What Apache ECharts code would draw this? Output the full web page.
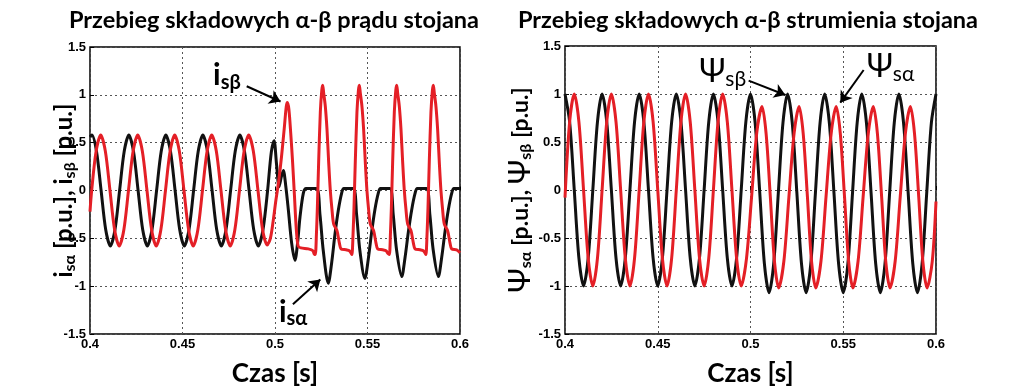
<!DOCTYPE html>
<html><head><meta charset="utf-8">
<script src="https://cdn.jsdelivr.net/npm/echarts@6/dist/echarts.min.js"></script>
<style>html,body{margin:0;padding:0;background:#fff}#c{width:1024px;height:392px}</style>
</head><body><div id="c"></div>
<script>
// ---------- text ----------
const titleLeft = 'Przebieg składowych α-β prądu stojana';
const titleRight = 'Przebieg składowych α-β strumienia stojana';
const xName = 'Czas [s]';
const xTicks = [0.4, 0.45, 0.5, 0.55, 0.6];
const yTicks = [-1.5, -1, -0.5, 0, 0.5, 1, 1.5];

// ---------- left chart: stator current components [t (s), value (p.u.)] ----------
const isAlpha = [
 [0.400,0.56],[0.401,0.58],[0.4035,0.41],[0.406,0],[0.4085,-0.41],[0.411,-0.58],[0.4135,-0.41],[0.416,0],[0.4185,0.41],
 [0.421,0.58],[0.4235,0.41],[0.426,0],[0.4285,-0.41],[0.431,-0.58],[0.4335,-0.41],[0.436,0],[0.4385,0.41],
 [0.441,0.58],[0.4435,0.41],[0.446,0],[0.4485,-0.41],[0.451,-0.58],[0.4535,-0.41],[0.456,0],[0.4585,0.41],
 [0.461,0.58],[0.4635,0.41],[0.466,0],[0.4685,-0.41],[0.471,-0.58],[0.4735,-0.41],[0.476,0],[0.4785,0.41],
 [0.481,0.58],[0.4835,0.41],[0.486,0],[0.4885,-0.41],[0.491,-0.58],[0.4935,-0.41],[0.496,0],[0.498,0.40],
 [0.4995,0.52],[0.5008,0.28],[0.5022,0.04],[0.5035,0.15],[0.5045,0.21],[0.5058,0.05],[0.5072,-0.2],[0.5090,-0.55],
 [0.5108,-0.73],[0.5122,-0.55],[0.5135,-0.28],[0.5153,-0.03],[0.5168,0.02],[0.5224,0.02],[0.5243,-0.25],[0.5261,-0.63],
 [0.5288,-0.97],[0.5306,-0.76],[0.5324,-0.46],[0.5342,-0.21],[0.5360,-0.03],[0.5372,0.02],[0.5423,0.02],[0.5441,-0.25],[0.5459,-0.63],
 [0.5486,-0.92],[0.5504,-0.72],[0.5522,-0.44],[0.5540,-0.2],[0.5558,-0.03],[0.5570,0.02],[0.5621,0.02],[0.5639,-0.25],[0.5657,-0.62],
 [0.5685,-0.90],[0.5703,-0.7],[0.5721,-0.43],[0.5739,-0.2],[0.5757,-0.03],[0.5769,0.02],[0.5819,0.02],[0.5837,-0.25],[0.5855,-0.62],
 [0.5883,-0.90],[0.5901,-0.7],[0.5919,-0.43],[0.5937,-0.2],[0.5955,-0.03],[0.5967,0.02],[0.600,0.02]
];
const isBeta = [
 [0.400,-0.22],[0.4009,0],[0.4033,0.41],[0.4058,0.58],[0.4083,0.41],[0.4108,0],[0.4133,-0.41],[0.4158,-0.58],[0.4183,-0.41],[0.4208,0],[0.4233,0.41],
 [0.4258,0.58],[0.4283,0.41],[0.4308,0],[0.4333,-0.41],[0.4358,-0.58],[0.4383,-0.41],[0.4408,0],[0.4433,0.41],
 [0.4458,0.58],[0.4483,0.41],[0.4508,0],[0.4533,-0.41],[0.4558,-0.58],[0.4583,-0.41],[0.4608,0],[0.4633,0.41],
 [0.4658,0.58],[0.4683,0.41],[0.4708,0],[0.4733,-0.41],[0.4758,-0.58],[0.4783,-0.41],[0.4808,0],[0.4833,0.41],
 [0.4858,0.58],[0.4883,0.41],[0.4908,0],[0.4933,-0.41],[0.4958,-0.57],
 [0.4975,-0.5],[0.4990,-0.32],[0.5005,-0.1],[0.5020,0.1],[0.5035,0.35],[0.5050,0.65],[0.5061,0.88],[0.5067,0.92],[0.5075,0.85],
 [0.5085,0.6],[0.5095,0.3],[0.5105,-0.05],[0.5115,-0.4],[0.5125,-0.58],[0.5140,-0.6],[0.5180,-0.61],[0.5205,-0.63],[0.5213,-0.67],
 [0.5218,-0.67],[0.5224,-0.45],[0.5229,-0.18],[0.5236,0.3],[0.5245,0.82],[0.5253,1.05],[0.5258,1.1],[0.5263,1.02],[0.5272,0.88],
 [0.5281,0.64],[0.5290,0.3],[0.5299,0.0],[0.5308,-0.2],[0.5317,-0.35],[0.5335,-0.42],[0.5348,-0.55],[0.5357,-0.61],[0.5384,-0.62],[0.5402,-0.63],[0.5413,-0.66],
 [0.5416,-0.67],[0.5422,-0.45],[0.5427,-0.18],[0.5434,0.3],[0.5443,0.82],[0.5451,1.05],[0.5456,1.1],[0.5461,1.02],[0.5470,0.88],
 [0.5479,0.64],[0.5488,0.3],[0.5497,0.0],[0.5506,-0.2],[0.5515,-0.35],[0.5533,-0.42],[0.5546,-0.55],[0.5555,-0.61],[0.5582,-0.62],[0.5600,-0.63],[0.5611,-0.66],
 [0.5618,-0.67],[0.5624,-0.45],[0.5629,-0.18],[0.5636,0.3],[0.5645,0.82],[0.5653,1.05],[0.5658,1.1],[0.5663,1.02],[0.5672,0.88],
 [0.5681,0.64],[0.5690,0.3],[0.5699,0.0],[0.5708,-0.2],[0.5717,-0.35],[0.5735,-0.42],[0.5748,-0.55],[0.5757,-0.61],[0.5784,-0.62],[0.5802,-0.63],[0.5813,-0.66],
 [0.5816,-0.67],[0.5822,-0.45],[0.5827,-0.18],[0.5834,0.3],[0.5843,0.82],[0.5851,1.05],[0.5856,1.1],[0.5861,1.02],[0.5870,0.88],
 [0.5879,0.64],[0.5888,0.3],[0.5897,0.0],[0.5906,-0.2],[0.5915,-0.35],[0.5933,-0.42],[0.5946,-0.55],[0.5955,-0.61],[0.5982,-0.62],[0.600,-0.65]
];

// ---------- right chart: stator flux components ----------
const psiBeta = [
 [0.400,1.0],[0.4025,0.71],[0.405,0],[0.4075,-0.71],[0.410,-1.0],[0.4125,-0.71],[0.415,0],[0.4175,0.71],
 [0.420,1.0],[0.4225,0.71],[0.425,0],[0.4275,-0.71],[0.430,-1.0],[0.4325,-0.71],[0.435,0],[0.4375,0.71],
 [0.440,1.0],[0.4425,0.71],[0.445,0],[0.4475,-0.71],[0.450,-1.0],[0.4525,-0.71],[0.455,0],[0.4575,0.71],
 [0.460,1.0],[0.4625,0.71],[0.465,0],[0.4675,-0.71],[0.470,-1.0],[0.4725,-0.71],[0.475,0],[0.4775,0.71],
 [0.480,1.0],[0.4825,0.71],[0.485,0],[0.4875,-0.71],[0.490,-1.0],[0.4925,-0.71],[0.495,0],[0.4975,0.71],
 [0.500,1.0],[0.5025,0.70],[0.505,-0.03],[0.5075,-0.77],[0.510,-1.07],[0.5125,-0.77],[0.515,-0.03],[0.5175,0.70],
 [0.520,1.0],[0.5225,0.70],[0.525,-0.03],[0.5275,-0.77],[0.530,-1.07],[0.5325,-0.77],[0.535,-0.03],[0.5375,0.70],
 [0.540,1.0],[0.5425,0.70],[0.545,-0.03],[0.5475,-0.77],[0.550,-1.07],[0.5525,-0.77],[0.555,-0.03],[0.5575,0.70],
 [0.560,1.0],[0.5625,0.70],[0.565,-0.03],[0.5675,-0.77],[0.570,-1.07],[0.5725,-0.77],[0.575,-0.03],[0.5775,0.70],
 [0.580,1.0],[0.5825,0.70],[0.585,-0.03],[0.5875,-0.77],[0.590,-1.07],[0.5925,-0.77],[0.595,-0.03],[0.5975,0.70],
 [0.600,1.0]
];
const psiAlpha = [
 [0.400,-0.08],[0.4025,0.71],[0.405,1.0],[0.4075,0.71],[0.410,0],[0.4125,-0.71],[0.415,-1.0],[0.4175,-0.71],[0.420,0],[0.4225,0.71],
 [0.425,1.0],[0.4275,0.71],[0.430,0],[0.4325,-0.71],[0.435,-1.0],[0.4375,-0.71],[0.440,0],[0.4425,0.71],
 [0.445,1.0],[0.4475,0.71],[0.450,0],[0.4525,-0.71],[0.455,-1.0],[0.4575,-0.71],[0.460,0],[0.4625,0.71],
 [0.465,1.0],[0.4675,0.71],[0.470,0],[0.4725,-0.71],[0.475,-1.0],[0.4775,-0.71],[0.480,0],[0.4825,0.71],
 [0.485,1.0],[0.4875,0.71],[0.490,0],[0.4925,-0.71],[0.495,-1.0],
 [0.4978,-0.72],[0.5006,-0.07],[0.5034,0.6],[0.5062,0.87],[0.5084,0.59],[0.5107,-0.075],[0.5129,-0.74],[0.5152,-1.02],
 [0.5180,-0.74],[0.5207,-0.075],[0.5235,0.59],[0.5262,0.87],[0.5284,0.59],[0.5307,-0.075],[0.5329,-0.74],[0.5352,-1.02],
 [0.5380,-0.74],[0.5407,-0.075],[0.5435,0.59],[0.5462,0.87],[0.5484,0.59],[0.5507,-0.075],[0.5529,-0.74],[0.5552,-1.02],
 [0.5580,-0.74],[0.5607,-0.075],[0.5635,0.59],[0.5662,0.87],[0.5684,0.59],[0.5707,-0.075],[0.5729,-0.74],[0.5752,-1.02],
 [0.5780,-0.74],[0.5807,-0.075],[0.5835,0.59],[0.5862,0.87],[0.5884,0.59],[0.5907,-0.075],[0.5929,-0.74],[0.5952,-1.02],
 [0.5980,-0.74],[0.600,-0.12]
];

// ---------- annotations (data coordinates) ----------
const arrowIsBeta  = [[0.4847, 1.09], [0.5030, 0.93]];
const labelIsBeta  = [0.4740, 1.20];
const arrowIsAlpha = [[0.5097, -1.19], [0.5245, -0.93]];
const labelIsAlpha = [0.5098, -1.27];
const arrowPsiBeta  = [[0.4990, 1.14], [0.5188, 0.99]];
const labelPsiBeta  = [0.4850, 1.23];
const arrowPsiAlpha = [[0.5610, 1.25], [0.5484, 0.91]];
const labelPsiAlpha = [0.5755, 1.28];

const RED = '#e41f26', BLACK = '#111111';
const FONT = 'Lato';

function subRich(mainSize, subSize, weight, subWeight) {
  return {
    m: {fontSize: mainSize, fontWeight: weight, fontFamily: FONT, color: '#000', lineHeight: mainSize + 4},
    s: {fontSize: subSize, fontWeight: subWeight, fontFamily: FONT, color: '#000', lineHeight: 12, verticalAlign: 'bottom'}
  };
}

function xAxisCfg(gi) {
  return {
    type: 'value', gridIndex: gi, min: 0.4, max: 0.6, interval: 0.05,
    axisLine: {show: false},
    axisTick: {show: true, inside: true, length: 4, lineStyle: {color: '#000'}},
    splitLine: {show: true, lineStyle: {type: [2, 3], color: '#555', width: 1}},
    axisLabel: {color: '#000', fontWeight: 'bold', fontFamily: 'Liberation Sans', fontSize: 13, margin: 4,
      formatter: v => String(+v.toFixed(2))},
    name: xName, nameLocation: 'middle', nameGap: 27, nameMoveOverlap: false,
    nameTextStyle: {fontFamily: FONT, fontWeight: 'bold', fontSize: 26, color: '#000'}
  };
}
function yAxisCfg(gi, name, rich, gap) {
  return {
    type: 'value', gridIndex: gi, min: -1.5, max: 1.5, interval: 0.5,
    axisLine: {show: false},
    axisTick: {show: true, inside: true, length: 4, lineStyle: {color: '#000'}},
    splitLine: {show: true, lineStyle: {type: [2, 3], color: '#555', width: 1}},
    axisLabel: {color: '#000', fontWeight: 'bold', fontFamily: 'Liberation Sans', fontSize: 13, margin: 4,
      formatter: v => String(+v.toFixed(2))},
    name: name, nameLocation: 'middle', nameGap: gap, nameRotate: 90, nameMoveOverlap: false,
    nameTextStyle: {fontFamily: FONT, fontWeight: 'bold', fontSize: 23, color: '#000', rich: rich}
  };
}

function annot(arrow, label, text, rich) {
  return {
    markLine: {
      silent: true, symbol: ['none', 'arrow'], symbolSize: 11, animation: false,
      lineStyle: {color: '#000', width: 2, type: 'solid'}, label: {show: false},
      emphasis: {disabled: true},
      data: [[{coord: arrow[0]}, {coord: arrow[1]}]]
    },
    markPoint: {
      silent: true, symbol: 'circle', symbolSize: 1, itemStyle: {color: 'rgba(0,0,0,0)'},
      label: {show: true, position: 'inside', formatter: text, rich: rich},
      data: [{coord: label}]
    }
  };
}

function lineSeries(name, data, color, xi, yi, extra) {
  return Object.assign({
    type: 'line', name: name, data: data, xAxisIndex: xi, yAxisIndex: yi,
    showSymbol: false, smooth: 0.3, lineStyle: {color: color, width: 3}, itemStyle: {color: color},
    animation: false, z: 2
  }, extra || {});
}

const chart = echarts.init(document.getElementById('c'), null, {renderer: 'canvas'});
chart.setOption({
  backgroundColor: '#fff',
  animation: false,
  graphic: [
    {type: 'text', x: 274, y: 8, style: {text: titleLeft, fontFamily: FONT, fontWeight: 'bold', fontSize: 23.5, fill: '#000', align: 'center', verticalAlign: 'top'}},
    {type: 'text', x: 748, y: 8, style: {text: titleRight, fontFamily: FONT, fontWeight: 'bold', fontSize: 23.5, fill: '#000', align: 'center', verticalAlign: 'top'}}
  ],
  grid: [
    {left: 90, top: 47, width: 370, height: 291, show: true, borderColor: '#000', borderWidth: 1.5, backgroundColor: 'transparent'},
    {left: 565, top: 46, width: 371, height: 291, show: true, borderColor: '#000', borderWidth: 1.5, backgroundColor: 'transparent'}
  ],
  xAxis: [xAxisCfg(0), xAxisCfg(1)],
  yAxis: [
    yAxisCfg(0, '{m|i}{s|sα}{m| [p.u.], i}{s|sβ}{m| [p.u.]}', subRich(24, 16, 'bold', 'bold'), 12),
    yAxisCfg(1, '{p|Ψ}{s|sα}{m| [p.u.], }{p|Ψ}{s|sβ}{m| [p.u.]}', Object.assign(subRich(23, 16, 'bold', 'bold'),
      {p: {fontSize: 30, fontWeight: 'normal', fontFamily: FONT, color: '#000', lineHeight: 27}}), 31)
  ],
  series: [
    lineSeries('isα', isAlpha, BLACK, 0, 0, annot(arrowIsAlpha, labelIsAlpha, '{m|i}{s|sα}', subRich(30, 20, 'bold', 'bold'))),
    lineSeries('isβ', isBeta, RED, 0, 0, annot(arrowIsBeta, labelIsBeta, '{m|i}{s|sβ}', subRich(30, 20, 'bold', 'bold'))),
    lineSeries('Ψsβ', psiBeta, BLACK, 1, 1, annot(arrowPsiBeta, labelPsiBeta, '{m|Ψ}{s|sβ}', subRich(32, 21, 'normal', 'normal'))),
    lineSeries('Ψsα', psiAlpha, RED, 1, 1, annot(arrowPsiAlpha, labelPsiAlpha, '{m|Ψ}{s|sα}', subRich(32, 21, 'normal', 'normal')))
  ]
});
</script>
</body></html>
